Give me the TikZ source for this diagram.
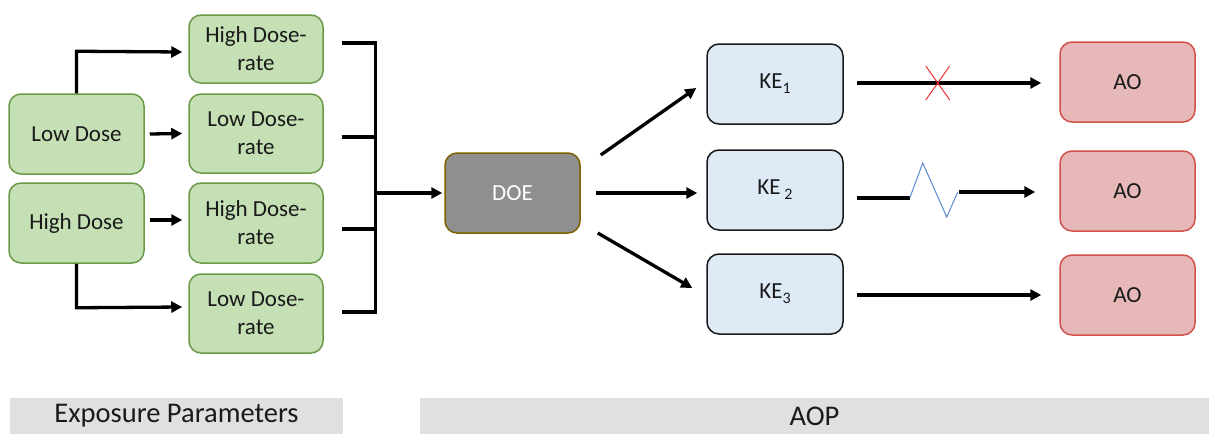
\documentclass[tikz,border=0pt]{standalone}
\usepackage{fontspec}
\setmainfont{Carlito}
\usetikzlibrary{arrows.meta,calc}
\definecolor{gfill}{HTML}{C5E0B4}
\definecolor{gdraw}{HTML}{6A9A48}
\definecolor{dfill}{HTML}{8F8F8F}
\definecolor{ddraw}{HTML}{7F6000}
\definecolor{kfill}{HTML}{DEEBF7}
\definecolor{kdraw}{HTML}{1A1A1A}
\definecolor{afill}{HTML}{E6B9B8}
\definecolor{adraw}{HTML}{D2504C}
\definecolor{lbl}{HTML}{E0E0E0}
\definecolor{txt}{HTML}{1A1A1A}
\definecolor{zig}{HTML}{5B8BD0}
\definecolor{xred}{HTML}{F03030}
\newcommand{\subs}[1]{\raisebox{-5pt}{\fontsize{16}{16}\selectfont #1}}
\tikzset{
  box/.style={rounded corners=12pt, line width=1.5pt, align=center, inner sep=0pt,
    text=txt, font=\fontsize{23}{28}\selectfont},
  gbox/.style={box, fill=gfill, draw=gdraw},
  dbox/.style={box, fill=dfill, draw=ddraw, text=white},
  kbox/.style={box, fill=kfill, draw=kdraw},
  abox/.style={box, fill=afill, draw=adraw},
  lblbox/.style={fill=lbl, inner sep=0pt, text=txt, font=\fontsize{28.5}{32}\selectfont},
  arr/.style={line width=3.3pt, -{Triangle[length=11pt,width=11pt]}},
  thick3/.style={line width=3.3pt},
}
\begin{document}
\begin{tikzpicture}[x=1pt,y=-1pt]
\useasboundingbox (0,0) rectangle (1209,434);
% left column
\node[gbox, minimum width=135pt, minimum height=80pt] (ld) at (76.5,134) {Low Dose};
\node[gbox, minimum width=135pt, minimum height=80pt] (hd) at (76.5,223) {High Dose};
% second column
\node[gbox, minimum width=134pt, minimum height=68pt] (r1) at (256,49) {High Dose-\\rate};
\node[gbox, minimum width=134pt, minimum height=79pt] (r2) at (256,133.5) {Low Dose-\\rate};
\node[gbox, minimum width=134pt, minimum height=80pt] (r3) at (256,223) {High Dose-\\rate};
\node[gbox, minimum width=134pt, minimum height=79pt] (r4) at (256,313.5) {Low Dose-\\rate};
% DOE
\node[dbox, minimum width=135pt, minimum height=80pt] (doe) at (512.5,193) {DOE};
% KE
\node[kbox, minimum width=136pt, minimum height=80pt] (ke1) at (775,84) {KE\subs{1}};
\node[kbox, minimum width=136pt, minimum height=80pt] (ke2) at (775,190) {KE\,\subs{2}};
\node[kbox, minimum width=136pt, minimum height=80pt] (ke3) at (775,294) {KE\subs{3}};
% AO
\node[abox, minimum width=135pt, minimum height=80pt] (ao1) at (1127.5,82) {AO};
\node[abox, minimum width=135pt, minimum height=80pt] (ao2) at (1127.5,191) {AO};
\node[abox, minimum width=135pt, minimum height=80pt] (ao3) at (1127.5,295) {AO};
% labels
\node[lblbox, minimum width=333pt, minimum height=36pt] (ep) at (176.5,416) {Exposure Parameters};
\node[lblbox, minimum width=789pt, minimum height=36pt] (aop) at (814.5,416) {AOP};

% left arrows
\draw[arr] (ld.north) -- ($(ld.north)+(0,-42)$) -- ($(r1.west)+(-6,3)$);
\draw[arr] ($(ld.east)+(5,0)$) -- ($(r2.west)+(-6,0)$);
\draw[arr] ($(hd.east)+(5,-3)$) -- ($(r3.west)+(-6,-3)$);
\draw[arr] (hd.south) -- ($(hd.south)+(0,44)$) -- ($(r4.west)+(-6,-6.5)$);
% bracket
\coordinate (bt) at ($(r1.east)+(52,-6)$);
\coordinate (bb) at ($(r4.east)+(52,-1.5)$);
\draw[thick3] ($(r1.east)+(18,-6)$) -- (bt) -- (bb) -- ($(r4.east)+(18,-1.5)$);
\draw[thick3] ($(r2.east)+(18,3.5)$) -- (bt |- {$(r2.east)+(0,3.5)$});
\draw[thick3] ($(r3.east)+(18,6)$) -- (bt |- {$(r3.east)+(0,6)$});
\draw[arr] (bt |- doe.west) -- ($(doe.west)+(-2,0)$);
% DOE fan
\draw[arr] ($(doe.east)+(20,-38)$) -- ($(ke1.west)+(-10,4)$);
\draw[arr] ($(doe.east)+(15,0)$) -- ($(ke2.west)+(-9,3)$);
\draw[arr] ($(doe.east)+(17,40)$) -- ($(ke3.west)+(-14,-6)$);
% KE -> AO
\draw[arr] ($(ke1.east)+(13,-1)$) -- ($(ao1.west)+(-18,1)$);
\draw[xred, line width=1pt] ($(ke1.east)+(82,-18)$) -- ($(ke1.east)+(106,16)$);
\draw[xred, line width=1pt] ($(ke1.east)+(106,-18)$) -- ($(ke1.east)+(82,16)$);
\coordinate (z0) at ($(ke2.east)+(66,8)$);
\draw[thick3] ($(ke2.east)+(13,8)$) -- (z0);
\draw[zig, line width=1pt] (z0) -- ++(13,-35) -- ++(24,54) -- ++(11,-25) coordinate (z1);
\draw[arr] ($(z1)+(1,0)$) -- ($(ao2.west)+(-24,1)$);
\draw[arr] ($(ke3.east)+(13,1)$) -- ($(ao3.west)+(-18,0)$);
\end{tikzpicture}
\end{document}
